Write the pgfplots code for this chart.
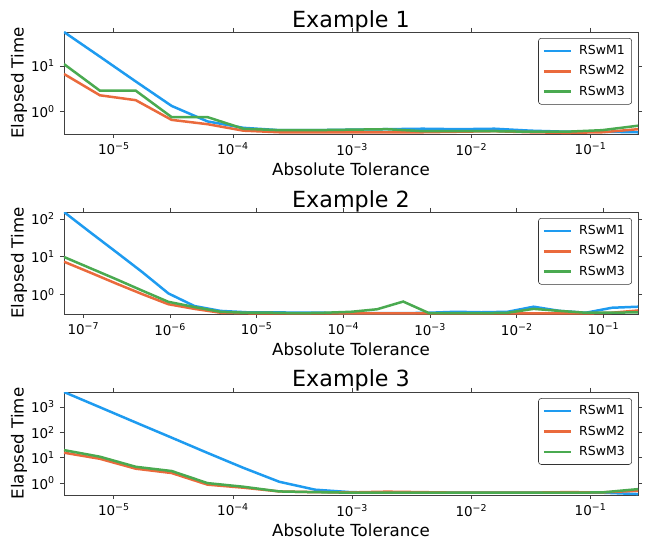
\documentclass[border=0pt]{standalone}
\usepackage{fontspec}
\setmainfont{DejaVu Sans}
\usepackage{pgfplots}
\usepackage{pgfplotstable}
\pgfplotsset{compat=1.18}

\definecolor{cBlue}{HTML}{1E9BF0}
\definecolor{cOrange}{HTML}{EA6A3C}
\definecolor{cGreen}{HTML}{4AAA50}

% tolerances 0.25*2^-k
\pgfplotstableread{
tol        m1     m2     m3
3.8147e-6  55     6.7    11
7.6294e-6  16     2.3    2.9
1.5259e-5  4.6    1.8    2.9
3.0518e-5  1.35   0.67   0.77
6.1035e-5  0.62   0.54   0.77
1.2207e-4  0.45   0.39   0.43
2.4414e-4  0.40   0.36   0.40
4.8828e-4  0.40   0.36   0.40
9.7656e-4  0.41   0.36   0.41
1.9531e-3  0.42   0.36   0.42
3.9063e-3  0.43   0.36   0.38
7.8125e-3  0.42   0.37   0.38
1.5625e-2  0.43   0.38   0.38
3.125e-2   0.39   0.36   0.37
6.25e-2    0.37   0.35   0.37
0.125      0.37   0.36   0.40
0.25       0.36   0.42   0.50
}\exone

\pgfplotstableread{
tol        m1     m2     m3
5.9605e-8  153    7.5    10
1.1921e-7  45     3.9    5.1
2.3842e-7  13.5   2.0    2.6
4.7684e-7  4.0    1.05   1.3
9.5367e-7  1.1    0.57   0.66
1.9073e-6  0.51   0.43   0.48
3.8147e-6  0.38   0.34   0.36
7.6294e-6  0.35   0.33   0.34
1.5259e-5  0.35   0.325  0.34
3.0518e-5  0.34   0.325  0.33
6.1035e-5  0.34   0.325  0.34
1.2207e-4  0.33   0.325  0.36
2.4414e-4  0.33   0.325  0.42
4.8828e-4  0.33   0.325  0.67
9.7656e-4  0.34   0.325  0.33
1.9531e-3  0.36   0.325  0.33
3.9063e-3  0.35   0.325  0.33
7.8125e-3  0.36   0.325  0.34
1.5625e-2  0.49   0.325  0.43
3.125e-2   0.38   0.325  0.38
6.25e-2    0.34   0.325  0.34
0.125      0.46   0.34   0.34
0.25       0.49   0.39   0.35
}\extwo

\pgfplotstableread{
tol        m1     m2     m3
3.8147e-6  3900   15.8   20
7.6294e-6  980    9.1    11
1.5259e-5  245    3.7    4.4
3.0518e-5  62     2.5    3.0
6.1035e-5  15.5   0.87   1.0
1.2207e-4  4.0    0.66   0.72
2.4414e-4  1.13   0.47   0.47
4.8828e-4  0.55   0.44   0.44
9.7656e-4  0.44   0.43   0.42
1.9531e-3  0.42   0.46   0.42
3.9063e-3  0.42   0.44   0.42
7.8125e-3  0.42   0.42   0.42
1.5625e-2  0.42   0.42   0.42
3.125e-2   0.42   0.42   0.42
6.25e-2    0.42   0.44   0.42
0.125      0.42   0.43   0.43
0.25       0.37   0.50   0.58
}\exthree

\pgfplotsset{
  legend image code/.code={\draw[#1] (0pt,0pt) -- (19.5pt,0pt);},
  scale only axis,
  width=413.3pt, height=73.44pt,
  axis line style={draw=black!75, line width=0.7pt},
  tick style={draw=black!75, line width=0.7pt},
  tick align=outside, major tick length=3pt,
  xminorticks=false, yminorticks=false,
  tick label style={font=\fontsize{9.7}{11}\selectfont},
  every axis x label/.style={at={(axis description cs:0.5,-0.279)},anchor=north,inner sep=0pt,font=\fontsize{12}{14}\selectfont},
  every axis y label/.style={at={(axis description cs:-0.064,0.5)},rotate=90,anchor=south,inner sep=0pt,font=\fontsize{12}{14}\selectfont},
  every axis title/.style={at={(axis description cs:0.5,1.049)},anchor=base,inner sep=0pt,font=\fontsize{16}{19}\selectfont},
  legend style={font=\fontsize{9}{11}\selectfont, at={(axis description cs:0.9895,0.941)}, anchor=north east,
    draw=black!80, rounded corners=2pt, inner xsep=3pt, inner ysep=3pt, row sep=2.5pt, column sep=3pt, cells={anchor=west}},
  cycle list={{cBlue,line width=1.8pt},{cOrange,line width=1.8pt},{cGreen,line width=1.8pt}},
}

\begin{document}
\begin{tikzpicture}
\begin{loglogaxis}[anchor=north west, at={(0pt,-23.04pt)}, title={Example 1},
  xlabel={Absolute Tolerance}, ylabel={Elapsed Time},
  xmin=3.8147e-6, xmax=0.25, ymin=0.33, ymax=55,
  xtick={1e-5,1e-4,1e-3,1e-2,1e-1},
  xticklabels={10\textsuperscript{−5},10\textsuperscript{−4},10\textsuperscript{−3},10\textsuperscript{−2},10\textsuperscript{−1}},
  ytick={1,10}, yticklabels={10\textsuperscript{0},10\textsuperscript{1}}]
\addplot table[x=tol,y=m1]{\exone};
\addplot table[x=tol,y=m2]{\exone};
\addplot table[x=tol,y=m3]{\exone};
\legend{RSwM1,RSwM2,RSwM3}
\end{loglogaxis}

\begin{loglogaxis}[anchor=north west, at={(0pt,-152.64pt)}, title={Example 2},
  xlabel={Absolute Tolerance}, ylabel={Elapsed Time},
  xmin=5.9605e-8, xmax=0.25, ymin=0.315, ymax=153,
  xtick={1e-7,1e-6,1e-5,1e-4,1e-3,1e-2,1e-1},
  xticklabels={10\textsuperscript{−7},10\textsuperscript{−6},10\textsuperscript{−5},10\textsuperscript{−4},10\textsuperscript{−3},10\textsuperscript{−2},10\textsuperscript{−1}},
  ytick={1,10,100}, yticklabels={10\textsuperscript{0},10\textsuperscript{1},10\textsuperscript{2}}]
\addplot table[x=tol,y=m1]{\extwo};
\addplot table[x=tol,y=m2]{\extwo};
\addplot table[x=tol,y=m3]{\extwo};
\legend{RSwM1,RSwM2,RSwM3}
\end{loglogaxis}

\begin{loglogaxis}[anchor=north west, at={(0pt,-282.24pt)}, height=74.16pt, title={Example 3},
  xlabel={Absolute Tolerance}, ylabel={Elapsed Time},
  xmin=3.8147e-6, xmax=0.25, ymin=0.34, ymax=3900,
  xtick={1e-5,1e-4,1e-3,1e-2,1e-1},
  xticklabels={10\textsuperscript{−5},10\textsuperscript{−4},10\textsuperscript{−3},10\textsuperscript{−2},10\textsuperscript{−1}},
  ytick={1,10,100,1000}, yticklabels={10\textsuperscript{0},10\textsuperscript{1},10\textsuperscript{2},10\textsuperscript{3}},
  legend style={at={(axis description cs:0.9895,0.94)}}]
\addplot table[x=tol,y=m1]{\exthree};
\addplot table[x=tol,y=m2]{\exthree};
\addplot table[x=tol,y=m3]{\exthree};
\legend{RSwM1,RSwM2,RSwM3}
\end{loglogaxis}
\pgfresetboundingbox
\path[use as bounding box] (-46.08pt,0pt) rectangle (423.36pt,-393.12pt);
\end{tikzpicture}
\end{document}
